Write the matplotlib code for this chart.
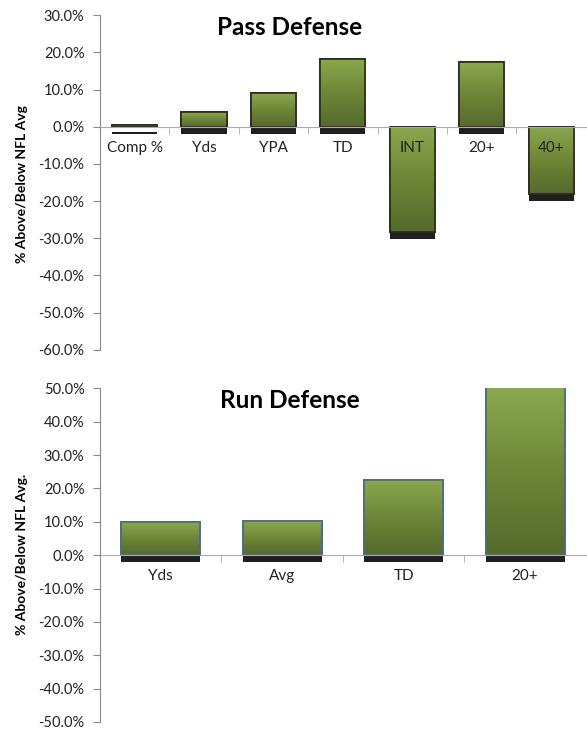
import numpy as np
import matplotlib
matplotlib.use("Agg")
import matplotlib.pyplot as plt
import matplotlib.patheffects as pe
from matplotlib.colors import LinearSegmentedColormap
from matplotlib.ticker import FuncFormatter

plt.rcParams['font.family'] = ['Lato', 'DejaVu Sans']

# pass defense, % above/below NFL avg
pass_cats = ['Comp %', 'Yds', 'YPA', 'TD', 'INT', '20+', '40+']
pass_vals = [0.5, 4.0, 9.0, 18.2, -28.3, 17.4, -18.2]

# run defense
run_cats = ['Yds', 'Avg', 'TD', '20+']
run_vals = [9.8, 10.1, 22.5, 52.0]

green = LinearSegmentedColormap.from_list('g', ['#556a2c', '#6e8637', '#8aa84e'])
grad = np.linspace(0, 1, 100).reshape(-1, 1)


def draw(ax, cats, vals, lo, hi, edge, title, ylab, ylab_y):
    x = np.arange(len(cats))
    shadow = [pe.SimplePatchShadow(offset=(0, -5), shadow_rgbFace='black', alpha=0.88),
              pe.Normal()]
    bars = ax.bar(x, vals, width=0.65, color='#6e8637', edgecolor=edge, linewidth=1.2, zorder=2,
                  path_effects=shadow)
    for b in bars:
        x0, y0 = b.get_x(), b.get_y()
        w, h = b.get_width(), b.get_height()
        ylo, yhi = min(y0, y0 + h), min(max(y0, y0 + h), hi)
        im = ax.imshow(grad, cmap=green, origin='lower', aspect='auto',
                       extent=(x0, x0 + w, ylo, yhi), zorder=2.2)
        im.set_clip_path(b)
        ax.add_patch(plt.Rectangle((x0, y0), w, h, fill=False, edgecolor=edge, linewidth=1.2, zorder=2.4))
    ax.set_xlim(-0.5, len(cats) - 0.5)
    ax.set_ylim(lo, hi)
    ax.set_yticks(np.arange(lo, hi + 1, 10))
    ax.yaxis.set_major_formatter(FuncFormatter(lambda v, p: '%.1f%%' % v))
    ax.tick_params(axis='y', length=5, color='#888888', labelsize=10.5, labelcolor='#222222', pad=6)
    for s in ['top', 'right']:
        ax.spines[s].set_visible(False)
    ax.spines['left'].set_color('#888888')
    ax.spines['bottom'].set_position(('data', 0))
    ax.spines['bottom'].set_color('#aaaaaa')
    ax.set_xticks(x)
    ax.set_xticklabels(cats)
    ax.set_xticks(np.arange(0.5, len(cats) - 0.5, 1), minor=True)
    ax.tick_params(axis='x', which='major', length=0, labelsize=11, labelcolor='#222222', pad=10)
    ax.tick_params(axis='x', which='minor', length=5, color='#aaaaaa')
    ax.set_axisbelow(False)
    ax.xaxis.set_zorder(3)
    ax.text(0.39, 0.965, title, transform=ax.transAxes, ha='center', va='center',
            fontsize=17.5, fontweight='bold')
    fig.text(0.037, ylab_y, ylab, rotation=90, ha='center', va='center', fontsize=10, fontweight='bold')


fig = plt.figure(figsize=(5.87, 7.30), dpi=100)
ax1 = fig.add_axes([0.170, 0.521, 0.828, 0.458])
ax2 = fig.add_axes([0.170, 0.011, 0.828, 0.457])
draw(ax1, pass_cats, pass_vals, -60, 30, '#2a2a1a', 'Pass Defense', '% Above/Below NFL Avg', 0.748)
draw(ax2, run_cats, run_vals, -50, 50, '#4a6a8a', 'Run Defense', '% Above/Below NFL Avg.', 0.24)

fig.savefig('out.png', dpi=100)
